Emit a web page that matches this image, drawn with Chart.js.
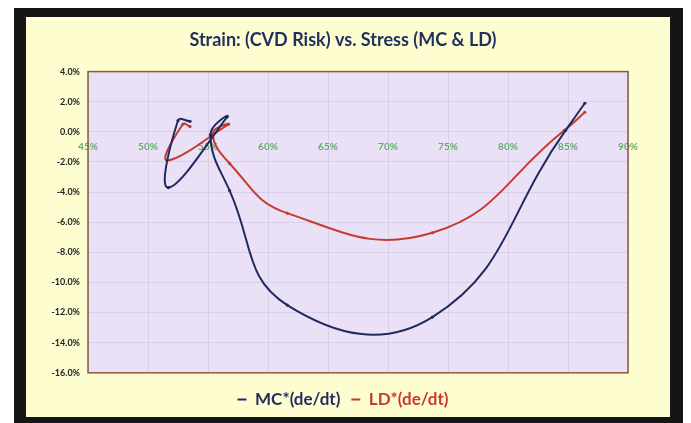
<!DOCTYPE html>
<html>
<head>
<meta charset="utf-8">
<script src="https://cdn.jsdelivr.net/npm/chart.js@4"></script>
<style>
  html, body { margin: 0; padding: 0; background: #ffffff; }
  #wrap { position: relative; width: 691px; height: 423px; }
</style>
</head>
<body>
<div id="wrap"><canvas id="strainChart" width="691" height="423"></canvas></div>
<script>
// Stress (x, %) and strain (y, %)
const mcX = [53.5, 52.5, 51.7, 56.6, 55.2, 56.8, 61.6, 73.7, 84.8, 86.4];
const mcY = [0.7, 0.75, -3.7, 1.0, -0.2, -3.9, -11.5, -12.3, 0.1, 1.9];
const ldX = [53.5, 52.9, 51.6, 56.7, 55.4, 56.8, 61.6, 73.7, 84.7, 86.4];
const ldY = [0.35, 0.5, -1.9, 0.5, -0.1, -2.1, -5.4, -6.7, 0.1, 1.3];

const xTicks = [45, 50, 55, 60, 65, 70, 75, 80, 85, 90];
const yTicks = [4, 2, 0, -2, -4, -6, -8, -10, -12, -14, -16];

const blue = '#1f2b5e';
const red = '#c63b30';

function toPoints(xs, ys) {
  return xs.map((x, i) => ({ x: x, y: ys[i] }));
}

// Fond : cadre noir, zone jaune, zone de tracé lavande
const framePlugin = {
  id: 'frame',
  afterLayout(chart) {
    // élargir la zone de découpe des étiquettes de l'axe Y
    chart.scales.y.left = 26;
  },
  beforeDraw(chart) {
    const c = chart.ctx;
    const a = chart.chartArea;
    c.save();
    c.fillStyle = '#ffffff';
    c.fillRect(0, 0, chart.width, chart.height);
    c.fillStyle = '#151515';
    c.fillRect(14, 8, 669, 415);
    c.fillStyle = '#fefdd0';
    c.fillRect(26, 17, 644, 400);
    c.fillStyle = '#ebe1f6';
    c.fillRect(a.left, a.top, a.right - a.left, a.bottom - a.top);
    c.restore();
  },
  afterDraw(chart) {
    const c = chart.ctx;
    const a = chart.chartArea;
    c.save();
    c.strokeStyle = '#8a5a3a';
    c.lineWidth = 1.5;
    c.strokeRect(a.left, a.top, a.right - a.left, a.bottom - a.top);
    c.restore();
  }
};

const ctx = document.getElementById('strainChart').getContext('2d');
new Chart(ctx, {
  type: 'scatter',
  data: {
    datasets: [
      {
        label: 'MC*(de/dt)',
        data: toPoints(mcX, mcY),
        showLine: true,
        borderColor: blue,
        backgroundColor: blue,
        borderWidth: 2,
        tension: 0.45,
        pointRadius: 1.6,
        pointBorderWidth: 0
      },
      {
        label: 'LD*(de/dt)',
        data: toPoints(ldX, ldY),
        showLine: true,
        borderColor: red,
        backgroundColor: red,
        borderWidth: 2,
        tension: 0.45,
        pointRadius: 1.6,
        pointBorderWidth: 0
      }
    ]
  },
  options: {
    responsive: false,
    animation: false,
    layout: { padding: { left: 58, right: 63, top: 17, bottom: 5 } },
    plugins: {
      title: {
        display: true,
        text: 'Strain: (CVD Risk) vs. Stress (MC & LD)',
        color: '#1f2f5e',
        font: { family: 'Lato', size: 18, weight: 'bold' },
        padding: { top: 12, bottom: 21 }
      },
      legend: {
        display: true,
        position: 'bottom',
        title: {
          display: true,
          text: ' ',
          font: { size: 1 },
          padding: { top: 3, bottom: 3 }
        },
        labels: {
          font: { family: 'Lato', size: 17, weight: 'bold' },
          boxWidth: 9,
          boxHeight: 2,
          padding: 11,
          generateLabels(chart) {
            return chart.data.datasets.map((ds, i) => ({
              text: ds.label,
              fillStyle: ds.borderColor,
              strokeStyle: ds.borderColor,
              lineWidth: 0,
              fontColor: ds.borderColor,
              datasetIndex: i
            }));
          }
        }
      },
      tooltip: { enabled: false }
    },
    scales: {
      x: {
        type: 'linear',
        min: 45,
        max: 90,
        position: { y: 0 },
        afterBuildTicks(scale) {
          scale.ticks = xTicks.map(v => ({ value: v }));
        },
        ticks: {
          color: '#5fae62',
          padding: 9,
          font: { family: 'Lato', size: 10, weight: 'bold' },
          callback: v => v + '%'
        },
        grid: { color: '#d9cfe8', drawTicks: false },
        border: { color: '#d9cfe8' }
      },
      y: {
        min: -16,
        max: 4,
        afterBuildTicks(scale) {
          scale.ticks = yTicks.map(v => ({ value: v }));
        },
        afterFit(scale) {
          scale.width = 30;
        },
        ticks: {
          color: '#222222',
          padding: 8,
          font: { family: 'Lato', size: 9, weight: 'bold' },
          callback: v => v.toFixed(1) + '%'
        },
        grid: { color: '#d9cfe8', drawTicks: false },
        border: { display: false }
      }
    }
  },
  plugins: [framePlugin]
});
</script>
</body>
</html>
